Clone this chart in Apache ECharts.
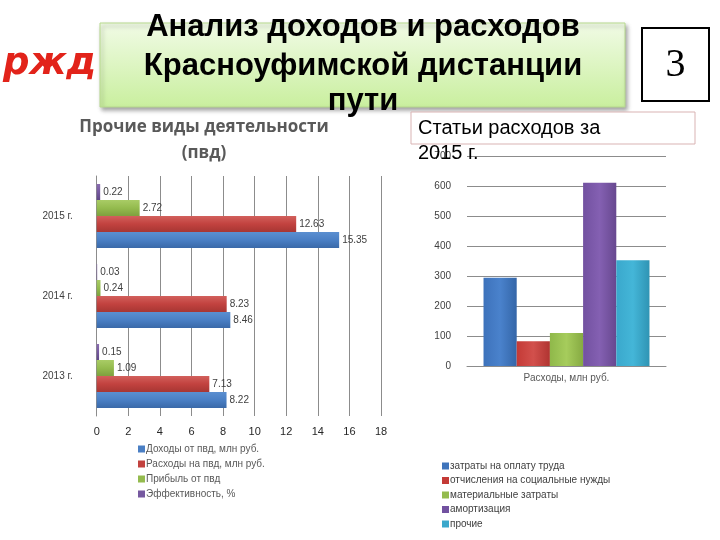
<!DOCTYPE html>
<html>
<head>
<meta charset="utf-8">
<script src="https://cdn.jsdelivr.net/npm/echarts@6/dist/echarts.min.js"></script>
<style>
html,body{margin:0;padding:0;background:#fff;}
#main{width:720px;height:540px;}
</style>
</head>
<body>
<div id="main"></div>
<script>
// ---- data ----
var years = ['2013 г.', '2014 г.', '2015 г.'];
var incomeSeriesName = 'Доходы от пвд, млн руб.';
var expenseSeriesName = 'Расходы на пвд, млн руб.';
var profitSeriesName = 'Прибыль от пвд';
var efficiencySeriesName = 'Эффективность, %';
var income = [8.22, 8.46, 15.35];
var expense = [7.13, 8.23, 12.63];
var profit = [1.09, 0.24, 2.72];
var efficiency = [0.15, 0.03, 0.22];
var xTicksLeft = [0, 2, 4, 6, 8, 10, 12, 14, 16, 18];

var costCategory = ['Расходы, млн руб.'];
var costNames = ['затраты на оплату труда', 'отчисления на социальные нужды', 'материальные затраты', 'амортизация', 'прочие'];
var costValues = [295, 83, 110, 613, 354];

var titleLines = ['Анализ доходов и расходов', 'Красноуфимской дистанции', 'пути'];
var leftTitleLines = ['Прочие виды деятельности', '(пвд)'];
var rightBoxLines = ['Статьи расходов за', '2015 г.'];

// ---- styling helpers ----
function hGrad(c1, c2, c3) {
  return new echarts.graphic.LinearGradient(0, 0, 0, 1, [
    {offset: 0, color: c1}, {offset: 0.5, color: c2}, {offset: 1, color: c3}]);
}
function vGrad(c1, c2, c3) {
  return new echarts.graphic.LinearGradient(0, 0, 1, 0, [
    {offset: 0, color: c1}, {offset: 0.5, color: c2}, {offset: 1, color: c3}]);
}
var leftColors = {
  income: hGrad('#5b8fd0', '#4a7fc4', '#3a69a8'),
  expense: hGrad('#d2605c', '#c2423f', '#a73633'),
  profit: hGrad('#a9cc66', '#94bb4e', '#7ea03e'),
  eff: hGrad('#8a6db0', '#7659a0', '#5f4786')
};
var rightColors = [
  vGrad('#3d72bb', '#4a82cc', '#3466a8'),
  vGrad('#c43a36', '#d2504c', '#b03431'),
  vGrad('#8fb84a', '#a6cc5c', '#86aa42'),
  vGrad('#7251a0', '#8460b2', '#67488f'),
  vGrad('#3aa8cc', '#44b6d8', '#2f94b4')
];
var legendSwatch = {
  income: '#4a7fc4', expense: '#c2423f', profit: '#94bb4e', eff: '#7659a0'
};
var rightSwatch = ['#3f74bb', '#c43a36', '#94bb4e', '#7251a0', '#3aa8cc'];

var gridColor = '#8c8c8c';
var labelColor = '#404040';

var leftLabel = {show: true, position: 'right', distance: 3, color: labelColor, fontSize: 10, fontFamily: 'Liberation Sans'};

function leftSeries(name, data, color) {
  return {
    type: 'bar', name: name, data: data, xAxisIndex: 0, yAxisIndex: 0,
    barGap: '0%', barCategoryGap: '20%',
    itemStyle: {color: color},
    label: leftLabel,
    emphasis: {disabled: true}
  };
}

var series = [
  leftSeries(efficiencySeriesName, efficiency, leftColors.eff),
  leftSeries(profitSeriesName, profit, leftColors.profit),
  leftSeries(expenseSeriesName, expense, leftColors.expense),
  leftSeries(incomeSeriesName, income, leftColors.income)
];
costNames.forEach(function (n, i) {
  series.push({
    type: 'bar', name: n, data: [costValues[i]], xAxisIndex: 1, yAxisIndex: 1,
    barGap: '0%', barCategoryGap: '16.6%',
    itemStyle: {color: rightColors[i]},
    emphasis: {disabled: true}
  });
});

var chart = echarts.init(document.getElementById('main'), null, {renderer: 'canvas'});
var option = {
  animation: false,
  backgroundColor: '#ffffff',
  grid: [
    {left: 96.7, width: 284.3, top: 176, height: 240},
    {left: 467, width: 199, top: 156.7, height: 209.3}
  ],
  xAxis: [
    {type: 'value', gridIndex: 0, min: xTicksLeft[0], max: xTicksLeft[xTicksLeft.length - 1], interval: 2,
     axisLine: {show: false}, axisTick: {show: false},
     splitLine: {show: true, lineStyle: {color: gridColor, width: 1}},
     axisLabel: {color: '#262626', fontSize: 11, margin: 10, fontFamily: 'Liberation Sans'}},
    {type: 'category', gridIndex: 1, data: costCategory,
     axisLine: {show: true, lineStyle: {color: gridColor}}, axisTick: {show: false},
     axisLabel: {color: '#595959', fontSize: 10, margin: 7, fontFamily: 'Liberation Sans'}}
  ],
  yAxis: [
    {type: 'category', gridIndex: 0, data: years,
     axisLine: {show: true, lineStyle: {color: gridColor}}, axisTick: {show: false},
     axisLabel: {color: labelColor, fontSize: 10, margin: 24, fontFamily: 'Liberation Sans'}},
    {type: 'value', gridIndex: 1, min: 0, max: 700, interval: 100,
     axisLine: {show: false}, axisTick: {show: false},
     splitLine: {show: true, lineStyle: {color: gridColor, width: 1}},
     axisLabel: {color: labelColor, fontSize: 10, margin: 16, fontFamily: 'Liberation Sans'}}
  ],
  legend: [
    {orient: 'vertical', left: 133, top: 439, itemWidth: 7, itemHeight: 7, itemGap: 5,
     icon: 'rect', selectedMode: false,
     data: [
       {name: incomeSeriesName, itemStyle: {color: legendSwatch.income}},
       {name: expenseSeriesName, itemStyle: {color: legendSwatch.expense}},
       {name: profitSeriesName, itemStyle: {color: legendSwatch.profit}},
       {name: efficiencySeriesName, itemStyle: {color: legendSwatch.eff}}
     ],
     textStyle: {color: '#595959', fontSize: 10, lineHeight: 10, padding: [0, 0, 0, -4], fontFamily: 'Liberation Sans'}},
    {orient: 'vertical', left: 437, top: 456, itemWidth: 7, itemHeight: 7, itemGap: 4.5,
     icon: 'rect', selectedMode: false,
     data: costNames.map(function (n, i) { return {name: n, itemStyle: {color: rightSwatch[i]}}; }),
     textStyle: {color: '#404040', fontSize: 10, lineHeight: 10, padding: [0, 0, 0, -4], fontFamily: 'Liberation Sans'}}
  ],
  series: series,
  graphic: [
    // logo
    {type: 'text', left: 3, top: 46, z: 10,
     style: {text: 'ржд', fill: '#e2231a', font: 'italic bold 37px "DejaVu Sans"'}},
    // title box
    {type: 'rect', shape: {x: 100, y: 23, width: 525, height: 84}, z: 10,
     style: {fill: new echarts.graphic.LinearGradient(0, 0, 0, 1, [
       {offset: 0, color: '#f1fbe6'}, {offset: 1, color: '#c9ef9e'}]),
       stroke: '#b7d98e', lineWidth: 1,
       shadowBlur: 4, shadowOffsetX: 2, shadowOffsetY: 3, shadowColor: 'rgba(0,0,0,0.35)'}},
    {type: 'text', x: 363, y: 27, z: 11,
     style: {text: titleLines[0], fill: '#000', font: 'bold 31px "Liberation Sans"', textAlign: 'center', textVerticalAlign: 'middle'}},
    {type: 'text', x: 363, y: 66, z: 11,
     style: {text: titleLines[1], fill: '#000', font: 'bold 31px "Liberation Sans"', textAlign: 'center', textVerticalAlign: 'middle'}},
    {type: 'text', x: 363, y: 101, z: 11,
     style: {text: titleLines[2], fill: '#000', font: 'bold 31px "Liberation Sans"', textAlign: 'center', textVerticalAlign: 'middle'}},
    // box 3
    {type: 'rect', shape: {x: 642, y: 28, width: 67, height: 73}, z: 10,
     style: {fill: '#fff', stroke: '#000', lineWidth: 2}},
    {type: 'text', x: 675.5, y: 65, z: 11,
     style: {text: '3', fill: '#000', font: '40px "Liberation Serif"', textAlign: 'center', textVerticalAlign: 'middle'}},
    // left chart title
    {type: 'text', x: 204, y: 127, z: 11,
     style: {text: leftTitleLines[0], fill: '#595959', font: 'bold 17px "Open Sans"', textAlign: 'center', textVerticalAlign: 'middle'}},
    {type: 'text', x: 204, y: 153, z: 11,
     style: {text: leftTitleLines[1], fill: '#595959', font: 'bold 17px "Open Sans"', textAlign: 'center', textVerticalAlign: 'middle'}},
    // right caption box
    {type: 'rect', shape: {x: 411, y: 112, width: 284, height: 32}, z: 10,
     style: {fill: '#fff', stroke: '#d9b3b3', lineWidth: 1}},
    {type: 'text', x: 418, y: 128, z: 11,
     style: {text: rightBoxLines[0], fill: '#000', font: '20px "Liberation Sans"', textAlign: 'left', textVerticalAlign: 'middle'}},
    {type: 'text', x: 418, y: 153, z: 11,
     style: {text: rightBoxLines[1], fill: '#000', font: '20px "Liberation Sans"', textAlign: 'left', textVerticalAlign: 'middle'}}
  ]
};
chart.setOption(option);
</script>
</body>
</html>
